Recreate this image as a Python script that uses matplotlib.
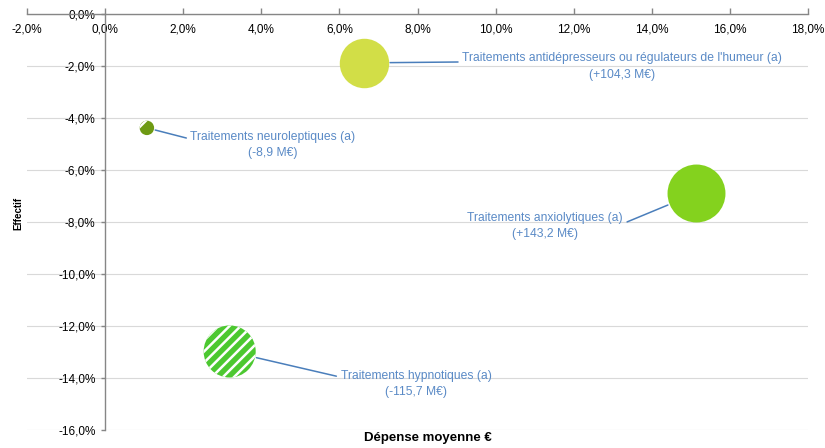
import matplotlib
matplotlib.use("Agg")
import matplotlib.pyplot as plt
from matplotlib.ticker import FuncFormatter, MultipleLocator

# --- data ---
names = ["Traitements antidépresseurs ou régulateurs de l'humeur (a)",
         "Traitements neuroleptiques (a)",
         "Traitements anxiolytiques (a)",
         "Traitements hypnotiques (a)"]
amounts = ["+104,3 M€", "-8,9 M€", "+143,2 M€", "-115,7 M€"]
depense = [6.63, 1.07, 15.13, 3.19]      # x, %
effectif = [-1.88, -4.38, -6.90, -12.98]  # y, %
montant = [104.3, -8.9, 143.2, -115.7]    # bubble size (M€)

colors = ["#d2de47", "#6e9a14", "#84d21e", "#4cc830"]
hatches = [None, "/", None, "///"]
# label placement (data coords) and where the leader line leaves the text
label_xy = [(13.24, -2.02), (4.30, -5.03), (11.27, -8.15), (7.96, -14.23)]
label_rel = [(0.0, 0.66), (0.0, 0.70), (1.0, 0.58), (0.0, 0.74)]

SIZE_K = 12.15  # pt^2 per M€ (area ~ |amount|)

plt.rcParams["hatch.linewidth"] = 1.8
plt.rcParams["font.family"] = ["Liberation Sans", "DejaVu Sans"]

fig = plt.figure(figsize=(8.25, 4.48), dpi=100)
ax = fig.add_axes([27 / 825, 1 - 430 / 448, 781 / 825, 416 / 448])

for i in range(len(names)):
    s = SIZE_K * abs(montant[i])
    if hatches[i]:
        ax.scatter([depense[i]], [effectif[i]], s=s, c=colors[i], hatch=hatches[i],
                   edgecolors="white", linewidths=0, zorder=3)
    else:
        ax.scatter([depense[i]], [effectif[i]], s=s, c=colors[i], linewidths=0, zorder=3)
    r_pt = (s ** 0.5) / 2
    ax.annotate(f"{names[i]}\n({amounts[i]})", xy=(depense[i], effectif[i]),
                xytext=label_xy[i], textcoords="data", ha="center", va="center",
                fontsize=8.7, color="#5a8ac6", linespacing=1.5,
                arrowprops=dict(arrowstyle="-", color="#4a7ebb", lw=1.1,
                                shrinkA=1, shrinkB=r_pt + 1, relpos=label_rel[i]),
                zorder=4)

ax.set_xlim(-2, 18)
ax.set_ylim(-16, 0)
ax.xaxis.set_major_locator(MultipleLocator(2))
ax.yaxis.set_major_locator(MultipleLocator(2))
pct = FuncFormatter(lambda v, p: f"{v:.1f}%".replace(".", ",").replace("-0,0", "0,0"))
ax.xaxis.set_major_formatter(pct)
ax.yaxis.set_major_formatter(pct)

for side in ["top", "right"]:
    ax.spines[side].set_visible(False)
ax.spines["bottom"].set_position(("data", 0))
ax.spines["left"].set_position(("data", 0))
for side in ["bottom", "left"]:
    ax.spines[side].set_color("#868686")
    ax.spines[side].set_linewidth(1.0)
    ax.spines[side].set_zorder(2)

ax.tick_params(axis="x", direction="in", length=4, width=1, color="#868686",
               pad=6.5, labelsize=8.5)
ax.tick_params(axis="y", direction="out", length=3, width=1, color="#868686",
               pad=4, labelsize=8.5)
ax.grid(axis="y", color="#d9d9d9", lw=0.8, zorder=0)
ax.set_axisbelow(True)

ax.set_xlabel("Dépense moyenne €", fontsize=9.5, fontweight="bold")
ax.xaxis.set_label_coords(0.513, -0.006)
ax.xaxis.label.set_va("top")
ax.set_ylabel("Effectif", fontsize=7, fontweight="bold")
ax.yaxis.set_label_coords(-0.0115, 0.52)
ax.yaxis.label.set_va("center")

fig.savefig("out.png", dpi=100)
